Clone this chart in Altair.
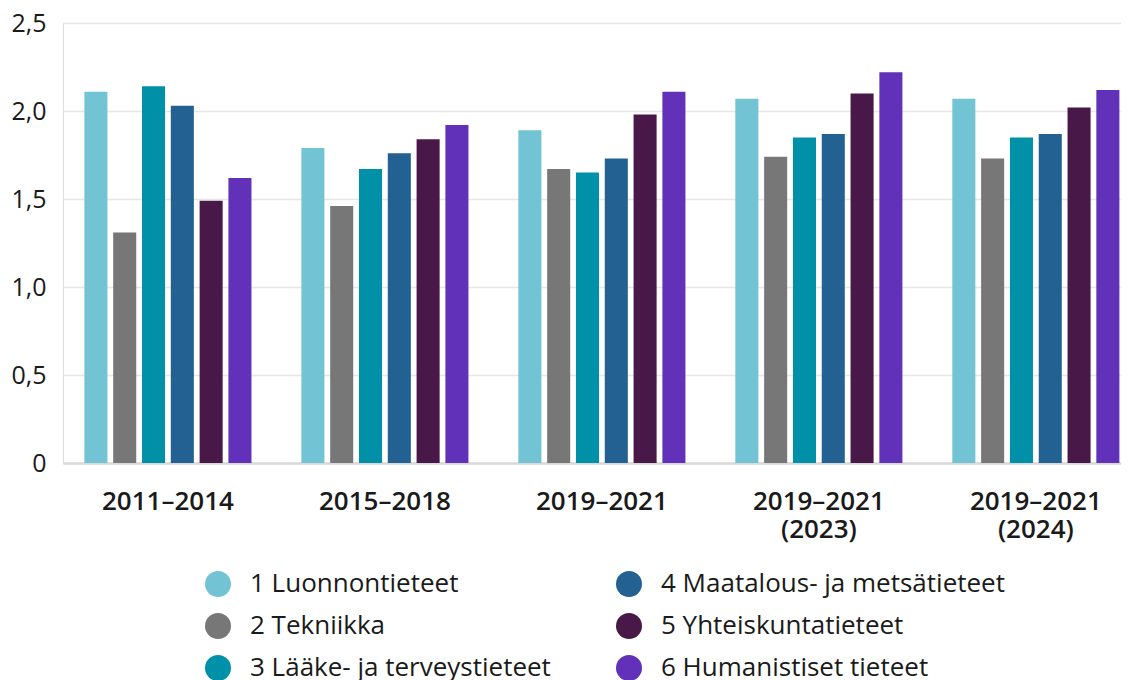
import altair as alt
import pandas as pd

periods = ["2011–2014", "2015–2018", "2019–2021", "2019–2021 (2023)", "2019–2021 (2024)"]
fields = [
    "1 Luonnontieteet",
    "2 Tekniikka",
    "3 Lääke- ja terveystieteet",
    "4 Maatalous- ja metsätieteet",
    "5 Yhteiskuntatieteet",
    "6 Humanistiset tieteet",
]
colors = ["#72C3D3", "#777777", "#0090A8", "#226192", "#481849", "#6131B9"]

f1 = [2.11, 1.79, 1.89, 2.07, 2.07]
f2 = [1.31, 1.46, 1.67, 1.74, 1.73]
f3 = [2.14, 1.67, 1.65, 1.85, 1.85]
f4 = [2.03, 1.76, 1.73, 1.87, 1.87]
f5 = [1.49, 1.84, 1.98, 2.10, 2.02]
f6 = [1.62, 1.92, 2.11, 2.22, 2.12]
series = [f1, f2, f3, f4, f5, f6]

rows = []
for fld, vals in zip(fields, series):
    for p, v in zip(periods, vals):
        rows.append({"period": p, "field": fld, "value": v})
df = pd.DataFrame(rows)

FONT = "Open Sans"

chart = (
    alt.Chart(df)
    .mark_bar()
    .encode(
        x=alt.X(
            "period:N",
            sort=periods,
            title=None,
            scale=alt.Scale(paddingInner=0.23, paddingOuter=0.053, align=0.93),
            axis=alt.Axis(
                labelAngle=0,
                labelFontSize=26,
                labelFontWeight=600,
                labelColor="#1a1a1a",
                labelFont=FONT,
                labelPadding=25,
                labelLineHeight=28,
                labelExpr="split(datum.label, ' ')",
                ticks=False,
                domain=True,
                domainColor="#d9d9d9",
                domainWidth=2.5,
                grid=False,
            ),
        ),
        xOffset=alt.XOffset(
            "field:N",
            sort=fields,
            scale=alt.Scale(paddingInner=0.2, paddingOuter=0),
        ),
        y=alt.Y(
            "value:Q",
            title=None,
            scale=alt.Scale(domain=[0, 2.5], nice=False),
            axis=alt.Axis(
                values=[0, 0.5, 1, 1.5, 2, 2.5],
                labelExpr="datum.value == 0 ? '0' : replace(format(datum.value, '.1f'), '.', ',')",
                labelFontSize=25,
                labelColor="#1a1a1a",
                labelFont=FONT,
                labelPadding=17,
                ticks=False,
                domain=False,
                grid=True,
                gridColor="#e6e6e6",
                gridWidth=1.5,
            ),
        ),
        color=alt.Color(
            "field:N",
            scale=alt.Scale(domain=fields, range=colors),
            legend=alt.Legend(
                title=None,
                orient="none",
                legendX=142,
                legendY=548,
                columns=2,
                symbolType="circle",
                symbolSize=676,
                symbolStrokeWidth=0,
                symbolOpacity=1,
                labelFontSize=26,
                labelFont=FONT,
                labelColor="#1a1a1a",
                labelOffset=19,
                rowPadding=16,
                columnPadding=65,
                labelLimit=500,
            ),
        ),
    )
    .properties(
        width=1058,
        height=440,
        autosize=alt.AutoSizeParams(type="none"),
        padding={"left": 55, "top": 15, "right": 0, "bottom": 226},
    )
    .configure_view(stroke=None)
    .configure(font=FONT)
)

chart.save("out.html", embed_options={"renderer": "svg", "actions": False})
